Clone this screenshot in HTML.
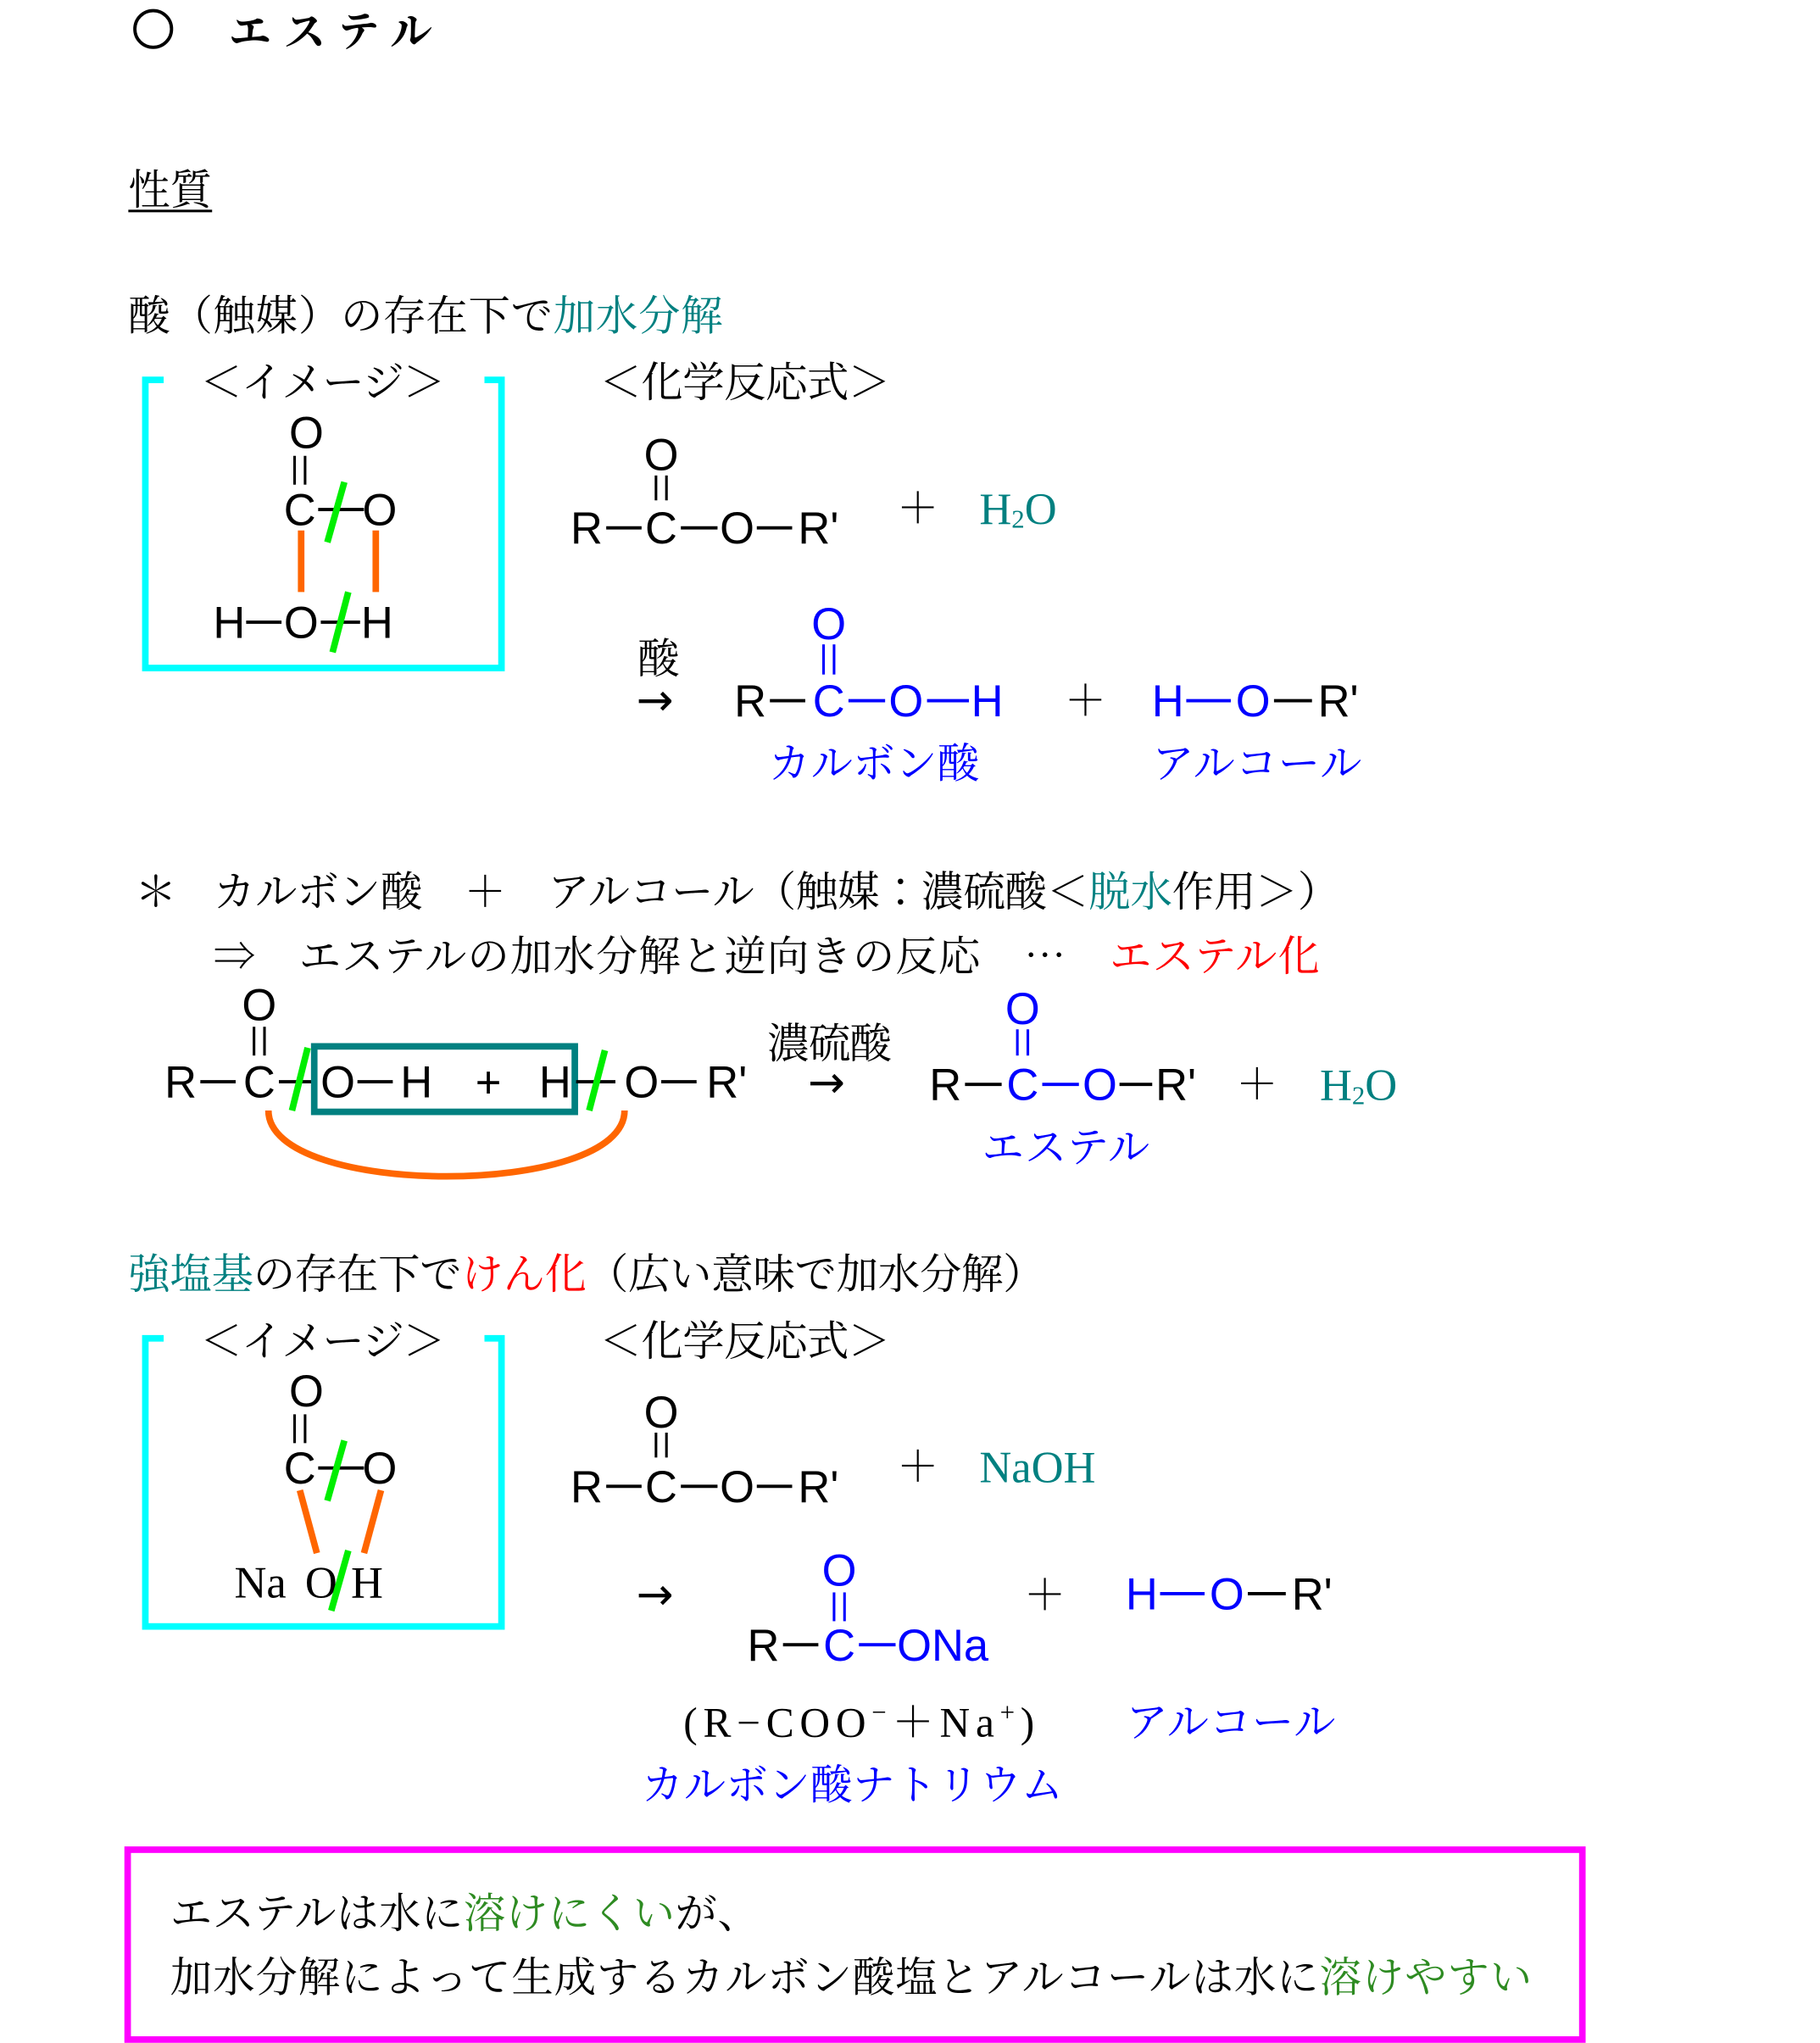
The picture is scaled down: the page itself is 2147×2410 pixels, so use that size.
<!DOCTYPE html>
<html><head><meta charset="utf-8"><style>
html,body{margin:0;padding:0;background:#fff;}
svg{display:block;}
.j{font-family:"Liberation Serif","Noto Serif CJK JP","Noto Serif CJK SC",serif;font-size:32px;}
.c{font-family:"Liberation Sans",sans-serif;font-size:34px;text-anchor:middle;}
.s{font-family:"Liberation Serif",serif;font-size:34px;}
.ar{font-family:"DejaVu Sans",sans-serif;font-size:34px;}
.b{fill:#0000ff;} .t{fill:#008080;} .r{fill:#ff0000;} .g{fill:#2e8b22;}
</style></head><body>
<svg width="2147" height="2410" viewBox="0 0 1390 1560" xmlns="http://www.w3.org/2000/svg">
<!-- title -->
<circle cx="117" cy="22" r="14" fill="none" stroke="#000" stroke-width="2.5"/>
<text class="j" x="175" y="35" font-size="36" font-weight="bold" font-family="'Noto Sans CJK JP',sans-serif" textLength="155">エステル</text>
<text class="j" x="98" y="156" textLength="64">性質</text>
<line x1="98" y1="161" x2="162" y2="161" stroke="#000" stroke-width="2"/>
<text class="j" x="98" y="252" textLength="454">酸（触媒）の存在下で<tspan class="t">加水分解</tspan></text>

<!-- box 1 -->
<path d="M125,290 H111 V510 H383 V290 H370" fill="none" stroke="#00ffff" stroke-width="5"/>
<text class="j" x="153" y="303" textLength="187">＜イメージ＞</text>
<text class="j" x="458" y="303" textLength="222">＜化学反応式＞</text>
<text class="c" x="234" y="342">O</text>
<line x1="225" y1="348" x2="225" y2="370" stroke="#000" stroke-width="2"/>
<line x1="233" y1="348" x2="233" y2="370" stroke="#000" stroke-width="2"/>
<text class="c" x="229" y="401">C</text>
<line x1="243" y1="389" x2="278" y2="389" stroke="#000" stroke-width="2.5"/>
<text class="c" x="290" y="401">O</text>
<line x1="263" y1="368" x2="250" y2="414" stroke="#00ee00" stroke-width="5"/>
<line x1="230" y1="405" x2="230" y2="452" stroke="#ff6600" stroke-width="5"/>
<line x1="287" y1="405" x2="287" y2="452" stroke="#ff6600" stroke-width="5"/>
<text class="c" x="175" y="487">H</text>
<line x1="188" y1="475" x2="215" y2="475" stroke="#000" stroke-width="2.5"/>
<text class="c" x="230" y="487">O</text>
<line x1="245" y1="475" x2="275" y2="475" stroke="#000" stroke-width="2.5"/>
<text class="c" x="288" y="487">H</text>
<line x1="266" y1="452" x2="254" y2="498" stroke="#00ee00" stroke-width="5"/>

<!-- reaction 1 -->
<text class="c" x="505" y="359">O</text>
<line x1="501" y1="363" x2="501" y2="382" stroke="#000" stroke-width="2"/>
<line x1="509" y1="363" x2="509" y2="382" stroke="#000" stroke-width="2"/>
<text class="c" x="448" y="415">R</text>
<line x1="463" y1="403" x2="490" y2="403" stroke="#000" stroke-width="2.5"/>
<text class="c" x="505" y="415">C</text>
<line x1="520" y1="403" x2="548" y2="403" stroke="#000" stroke-width="2.5"/>
<text class="c" x="563" y="415">O</text>
<line x1="578" y1="403" x2="605" y2="403" stroke="#000" stroke-width="2.5"/>
<text class="c" x="625" y="415">R'</text>
<text class="j" x="685" y="399">＋</text>
<text class="s t" x="748" y="400">H<tspan font-size="20" dy="3">2</tspan><tspan dy="-3">O</tspan></text>

<text class="j" x="487" y="514">酸</text>
<text class="ar" x="486" y="546">→</text>
<text class="c b" x="633" y="488">O</text>
<line x1="629" y1="492" x2="629" y2="515" stroke="#0000ff" stroke-width="2"/>
<line x1="637" y1="492" x2="637" y2="515" stroke="#0000ff" stroke-width="2"/>
<text class="c" x="573" y="547">R</text>
<line x1="588" y1="535" x2="615" y2="535" stroke="#000" stroke-width="2.5"/>
<text class="c b" x="633" y="547">C</text>
<line x1="648" y1="535" x2="676" y2="535" stroke="#0000ff" stroke-width="2.5"/>
<text class="c b" x="692" y="547">O</text>
<line x1="708" y1="535" x2="740" y2="535" stroke="#0000ff" stroke-width="2.5"/>
<text class="c b" x="754" y="547">H</text>
<text class="j" x="813" y="546">＋</text>
<text class="c b" x="892" y="547">H</text>
<line x1="906" y1="535" x2="940" y2="535" stroke="#0000ff" stroke-width="2.5"/>
<text class="c b" x="957" y="547">O</text>
<line x1="973" y1="535" x2="1002" y2="535" stroke="#000" stroke-width="2.5"/>
<text class="c" x="1022" y="547">R'</text>
<text class="j b" x="587" y="594" textLength="161">カルボン酸</text>
<text class="j b" x="880" y="594" textLength="160">アルコール</text>

<!-- esterification -->
<text class="j" x="103" y="692">＊</text>
<text class="j" x="163" y="692" textLength="860">カルボン酸　＋　アルコール（触媒：濃硫酸＜<tspan class="t">脱水</tspan>作用＞）</text>
<text class="j" x="163" y="741" textLength="845">⇒　エステルの加水分解と逆向きの反応　⋯　<tspan class="r">エステル化</tspan></text>

<text class="c" x="198" y="779">O</text>
<line x1="194" y1="784" x2="194" y2="806" stroke="#000" stroke-width="2"/>
<line x1="202" y1="784" x2="202" y2="806" stroke="#000" stroke-width="2"/>
<text class="c" x="138" y="838">R</text>
<line x1="153" y1="826" x2="180" y2="826" stroke="#000" stroke-width="2.5"/>
<text class="c" x="198" y="838">C</text>
<line x1="213" y1="826" x2="240" y2="826" stroke="#000" stroke-width="2.5"/>
<rect x="240" y="799" width="199" height="50" fill="none" stroke="#008080" stroke-width="5"/>
<text class="c" x="258" y="838">O</text>
<line x1="273" y1="826" x2="300" y2="826" stroke="#000" stroke-width="2.5"/>
<text class="c" x="318" y="838">H</text>
<text class="c" x="373" y="838" font-size="30">+</text>
<text class="c" x="424" y="838">H</text>
<line x1="440" y1="826" x2="470" y2="826" stroke="#000" stroke-width="2.5"/>
<line x1="235" y1="800" x2="223" y2="848" stroke="#00ee00" stroke-width="5"/>
<line x1="462" y1="802" x2="450" y2="848" stroke="#00ee00" stroke-width="5"/>
<text class="c" x="490" y="838">O</text>
<line x1="505" y1="826" x2="532" y2="826" stroke="#000" stroke-width="2.5"/>
<text class="c" x="555" y="838">R'</text>
<path d="M205,848 C205,915 477,915 477,848" fill="none" stroke="#ff6600" stroke-width="5"/>
<text class="j" x="586" y="808" textLength="95">濃硫酸</text>
<text class="ar" x="617" y="838">→</text>
<text class="c b" x="781" y="782">O</text>
<line x1="777" y1="786" x2="777" y2="806" stroke="#0000ff" stroke-width="2"/>
<line x1="785" y1="786" x2="785" y2="806" stroke="#0000ff" stroke-width="2"/>
<text class="c" x="722" y="840">R</text>
<line x1="737" y1="828" x2="765" y2="828" stroke="#000" stroke-width="2.5"/>
<text class="c b" x="781" y="840">C</text>
<line x1="796" y1="828" x2="824" y2="828" stroke="#0000ff" stroke-width="2.5"/>
<text class="c b" x="840" y="840">O</text>
<line x1="855" y1="828" x2="880" y2="828" stroke="#000" stroke-width="2.5"/>
<text class="c" x="898" y="840">R'</text>
<text class="j" x="944" y="839">＋</text>
<text class="s t" x="1008" y="840">H<tspan font-size="20" dy="3">2</tspan><tspan dy="-3">O</tspan></text>
<text class="j b" x="750" y="887" textLength="128">エステル</text>

<!-- saponification -->
<text class="j" x="98" y="984" textLength="700"><tspan class="t">強塩基</tspan>の存在下で<tspan class="r">けん化</tspan>（広い意味で加水分解）</text>
<path d="M125,1022 H111 V1242 H383 V1022 H370" fill="none" stroke="#00ffff" stroke-width="5"/>
<text class="j" x="153" y="1035" textLength="187">＜イメージ＞</text>
<text class="j" x="458" y="1035" textLength="222">＜化学反応式＞</text>
<text class="c" x="234" y="1074">O</text>
<line x1="225" y1="1080" x2="225" y2="1102" stroke="#000" stroke-width="2"/>
<line x1="233" y1="1080" x2="233" y2="1102" stroke="#000" stroke-width="2"/>
<text class="c" x="229" y="1133">C</text>
<line x1="243" y1="1121" x2="278" y2="1121" stroke="#000" stroke-width="2.5"/>
<text class="c" x="290" y="1133">O</text>
<line x1="263" y1="1100" x2="250" y2="1146" stroke="#00ee00" stroke-width="5"/>
<line x1="229" y1="1138" x2="242" y2="1186" stroke="#ff6600" stroke-width="5"/>
<line x1="291" y1="1138" x2="278" y2="1186" stroke="#ff6600" stroke-width="5"/>
<text class="s" x="179" y="1220">Na</text>
<text class="s" x="233" y="1220">O</text>
<text class="s" x="268" y="1220">H</text>
<line x1="266" y1="1184" x2="253" y2="1230" stroke="#00ee00" stroke-width="5"/>

<text class="c" x="505" y="1090">O</text>
<line x1="501" y1="1094" x2="501" y2="1113" stroke="#000" stroke-width="2"/>
<line x1="509" y1="1094" x2="509" y2="1113" stroke="#000" stroke-width="2"/>
<text class="c" x="448" y="1147">R</text>
<line x1="463" y1="1135" x2="490" y2="1135" stroke="#000" stroke-width="2.5"/>
<text class="c" x="505" y="1147">C</text>
<line x1="520" y1="1135" x2="548" y2="1135" stroke="#000" stroke-width="2.5"/>
<text class="c" x="563" y="1147">O</text>
<line x1="578" y1="1135" x2="605" y2="1135" stroke="#000" stroke-width="2.5"/>
<text class="c" x="625" y="1147">R'</text>
<text class="j" x="685" y="1131">＋</text>
<text class="s t" x="748" y="1132">NaOH</text>

<text class="ar" x="486" y="1229">→</text>
<text class="c b" x="641" y="1211">O</text>
<line x1="637" y1="1216" x2="637" y2="1238" stroke="#0000ff" stroke-width="2"/>
<line x1="645" y1="1216" x2="645" y2="1238" stroke="#0000ff" stroke-width="2"/>
<text class="c" x="583" y="1268">R</text>
<line x1="598" y1="1256" x2="625" y2="1256" stroke="#000" stroke-width="2.5"/>
<text class="c b" x="641" y="1268">C</text>
<line x1="656" y1="1256" x2="684" y2="1256" stroke="#0000ff" stroke-width="2.5"/>
<text class="c b" x="720" y="1268" font-size="32">ONa</text>
<text class="j" x="782" y="1229">＋</text>
<text class="c b" x="872" y="1229">H</text>
<line x1="886" y1="1217" x2="920" y2="1217" stroke="#0000ff" stroke-width="2.5"/>
<text class="c b" x="937" y="1229">O</text>
<line x1="953" y1="1217" x2="982" y2="1217" stroke="#000" stroke-width="2.5"/>
<text class="c" x="1002" y="1229">R'</text>
<text class="j" x="522" y="1326" textLength="268">(R−COO<tspan font-size="20" dy="-12">−</tspan><tspan dy="12">＋Na</tspan><tspan font-size="20" dy="-12">+</tspan><tspan dy="12">)</tspan></text>
<text class="j b" x="860" y="1326" textLength="160">アルコール</text>
<text class="j b" x="490" y="1374" textLength="322">カルボン酸ナトリウム</text>

<!-- note box -->
<rect x="97.5" y="1412.5" width="1111" height="145" fill="none" stroke="#ff00ff" stroke-width="5"/>
<text class="j" x="130" y="1472" textLength="450">エステルは水に<tspan class="g">溶けにくい</tspan>が、</text>
<text class="j" x="130" y="1521" textLength="1040">加水分解によって生成するカルボン酸塩とアルコールは水に<tspan class="g">溶けやすい</tspan></text>
</svg>
</body></html>
